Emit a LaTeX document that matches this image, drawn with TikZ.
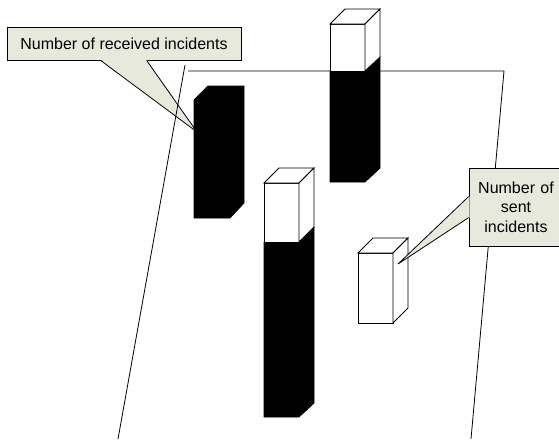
\documentclass[tikz,border=0pt]{standalone}
\usepackage{fontspec}
\setmainfont{Liberation Sans}
\usetikzlibrary{calc}
\definecolor{calloutfill}{RGB}{232,233,221}
\tikzset{
  calloutbox/.style={draw=black, fill=calloutfill, line width=0.8pt, inner sep=0pt,
    font=\fontsize{16}{19.5}\selectfont, align=center},
  edge/.style={draw=black, line width=0.8pt, line join=miter},
  whiteface/.style={edge, fill=white},
  blackpart/.style={edge, fill=black},
  planeline/.style={draw=black, line width=0.8pt},
}
\begin{document}
\begin{tikzpicture}[x=1pt,y=-1pt]
\useasboundingbox (0,0) rectangle (559,439);
% callout 1
\node[calloutbox, minimum width=234pt, minimum height=33pt] (c1) at (124,43.5) {Number of received incidents};
\coordinate (tipA) at (197,132);
\coordinate (bA1) at ($(c1.south west)+(94,0)$);
\coordinate (bA2) at ($(c1.south west)+(140,0)$);
\fill[calloutfill] ($(bA1)+(0,-1)$) -- (tipA) -- ($(bA2)+(0,-1)$) -- cycle;
\draw[edge] (bA1) -- (tipA) -- (bA2);
% plane
\coordinate (pTL) at (185,65);
\coordinate (pBL) at (118,439);
\coordinate (pT1) at (188,71);
\coordinate (pTR) at (504,71);
\coordinate (pBR) at (471,439);
\draw[planeline] (pTL) -- (pBL);
\draw[planeline] (pT1) -- (pTR) -- (pBR);
% bar 1 (received only)
\draw[blackpart] (194,100) -- (208,86) -- (244,86) -- (244,203) -- (230,218) -- (194,218) -- cycle;
% bar 2
\draw[blackpart] (330,71) -- (365,71) -- (380,57) -- (380,168) -- (365,182) -- (330,182) -- cycle;
\draw[whiteface] (330,24) rectangle (365,71);
\draw[whiteface] (330,24) -- (345,9) -- (380,9) -- (365,24) -- cycle;
\draw[whiteface] (365,24) -- (380,9) -- (380,57) -- (365,71) -- cycle;
% bar 3
\draw[blackpart] (264,242) -- (299,242) -- (314,227) -- (314,403) -- (299,417) -- (264,417) -- cycle;
\draw[whiteface] (264,183) rectangle (299,242);
\draw[whiteface] (264,183) -- (279,168) -- (314,168) -- (299,183) -- cycle;
\draw[whiteface] (299,183) -- (314,168) -- (314,227) -- (299,242) -- cycle;
% bar 4 (sent only)
\draw[whiteface] (358,253) rectangle (393,323);
\draw[whiteface] (358,253) -- (373,238) -- (408,238) -- (393,253) -- cycle;
\draw[whiteface] (393,253) -- (408,238) -- (408,308) -- (393,323) -- cycle;
% callout 2
\node[calloutbox, minimum width=94pt, minimum height=78pt, text width=94pt] (c2) at (516,207) {Number of\\sent\\incidents};
\coordinate (tipB) at (398,264);
\coordinate (bB1) at ($(c2.north west)+(0,29)$);
\coordinate (bB2) at ($(c2.north west)+(0,50)$);
\fill[calloutfill] ($(bB1)+(1,0)$) -- (tipB) -- ($(bB2)+(1,0)$) -- cycle;
\draw[edge] (bB1) -- (tipB) -- (bB2);
\end{tikzpicture}
\end{document}
